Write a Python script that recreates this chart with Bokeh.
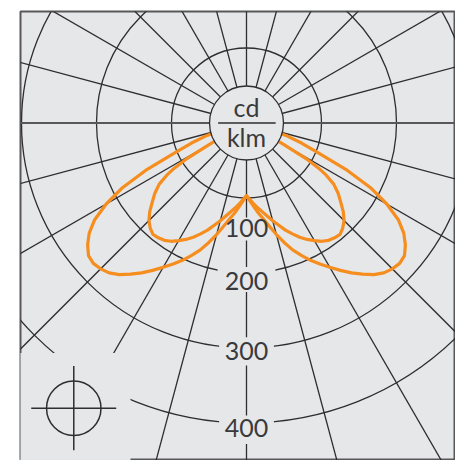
import numpy as np
from bokeh.plotting import figure
from bokeh.models import Range1d
from bokeh.core.properties import value
from bokeh.embed import file_html
from bokeh.resources import INLINE

# ---------------- data (cd/klm, angles in degrees from nadir) ----------------
ring_values = [100, 200, 300, 400]
ring_labels = ["100", "200", "300", "400"]
spoke_angles = [0, 15, 30, 45, 60, 75, 105, 120, 135, 150, 165, 180,
                195, 210, 225, 240, 255, 285, 300, 315, 330, 345]
unit_top = "cd"
unit_bottom = "klm"

gamma_outer = [0, 2.5, 5, 7.5, 10, 12.5, 15, 17.5, 20, 22.5, 25, 27.5, 30, 32.5, 35, 37.5, 40,
               42.5, 45, 47.5, 50, 52.5, 55, 57.5, 60, 62.5, 65, 67.5, 70, 72.5, 75, 77.5, 79]
intensity_outer = [97, 104, 112, 121, 130, 141, 154, 167, 180, 191, 202, 212, 222, 233, 244, 254, 264,
                   271, 275, 277, 275, 267, 256, 240, 216, 186, 146, 103, 78, 55, 35, 14, 0]

gamma_inner = [0, 2.5, 5, 7.5, 10, 12.5, 15, 17.5, 20, 22.5, 25, 27.5, 30, 32.5, 35, 37.5, 40,
               42.5, 45, 47.5, 50, 52.5, 55, 57, 58, 59, 60, 61, 62]
intensity_inner = [97, 102, 108, 114, 120, 127, 135, 143, 152, 160, 168, 175, 181, 187, 191, 193, 194,
                   190, 184, 175, 164, 154, 142, 125, 113, 95, 57, 25, 0]

# ---------------- layout ----------------
PX = 0.75            # pixels per cd/klm
CX, CY = 246, 122.5  # pole position on the page
W, H = 455, 460
BL, BT = 20, 11

BG = "#e6e7e9"
DARK = "#2e2e30"
ORANGE = "#f68d1f"
TXT = "#3a3a3c"
FONT = value("Lato")

p = figure(width=W, height=H, output_backend="svg", toolbar_location=None,
           x_range=Range1d(-(CX - BL) / PX, (W - CX) / PX),
           y_range=Range1d(-(H - CY) / PX, (CY - BT) / PX),
           min_border_left=BL, min_border_top=BT, min_border_right=0, min_border_bottom=0)
p.axis.visible = False
p.grid.visible = False
p.background_fill_color = BG
p.border_fill_color = "white"
p.outline_line_color = "#58585a"
p.outline_line_width = 2

# rings
p.circle(x=[0] * len(ring_values), y=[0] * len(ring_values), radius=ring_values,
         fill_color=None, line_color=DARK, line_width=1.3)

# spokes
R = 900
a = np.radians(spoke_angles)
p.segment(x0=np.zeros(len(a)), y0=np.zeros(len(a)), x1=-R * np.sin(a), y1=-R * np.cos(a),
          line_color=DARK, line_width=1.3)
# horizontal axis line
p.segment(x0=[-R], y0=[0], x1=[R], y1=[0], line_color="#58585a", line_width=2)

# label knock-out boxes
box_y = [-141.2, -208.7, -304.4, -409.0]
box_w = [64, 77, 73, 73]
box_h = [30.7, 33.3, 37.7, 37.7]
p.rect(x=[0] * 4, y=box_y, width=box_w, height=box_h, fill_color=BG, line_color=None)

# legend symbol area
p.quad(left=[-400], right=[-154.7], top=[-306.7], bottom=[-600], fill_color=BG, line_color=None)
sx, sy, sr = -230.3, -380.4, 36.3
p.circle(x=[sx], y=[sy], radius=sr, fill_color=None, line_color=DARK, line_width=1.5)
p.segment(x0=[-287, sx], y0=[sy, -324], x1=[-173.7, sx], y1=[sy, -436.4],
          line_color=DARK, line_width=1.5)

# light distribution curves
def loop(g, i):
    g = np.radians(np.asarray(g, float))
    i = np.asarray(i, float)
    xl, yl = -i * np.sin(g), -i * np.cos(g)
    x = np.concatenate([xl[::-1], -xl[1:]])
    y = np.concatenate([yl[::-1], yl[1:]])
    return x, y

for g, i in [(gamma_outer, intensity_outer), (gamma_inner, intensity_inner)]:
    x, y = loop(g, i)
    p.line(x, y, line_color=ORANGE, line_width=3.2, line_join="round")

# centre label circle
SHIFT = 12.7
p.circle(x=[0], y=[0], radius=49.3, fill_color=BG, line_color=DARK, line_width=1.3)
p.segment(x0=[-37.8], y0=[0], x1=[38.9], y1=[0], line_color=DARK, line_width=1.3)
p.text(x=[0, 0], y=[8 + SHIFT, -31.7 + SHIFT], text=[unit_top, unit_bottom], text_align="center",
       text_baseline="alphabetic", text_font=FONT, text_font_size="25px", text_color=TXT)

# ring labels
label_y = [-152.7, -223.3, -317.3, -420.0]
p.text(x=[0] * 4, y=[v + SHIFT for v in label_y], text=ring_labels, text_align="center",
       text_baseline="alphabetic", text_font=FONT, text_font_size="25px", text_color=TXT)

open("out.html", "w").write(file_html(p, INLINE))
